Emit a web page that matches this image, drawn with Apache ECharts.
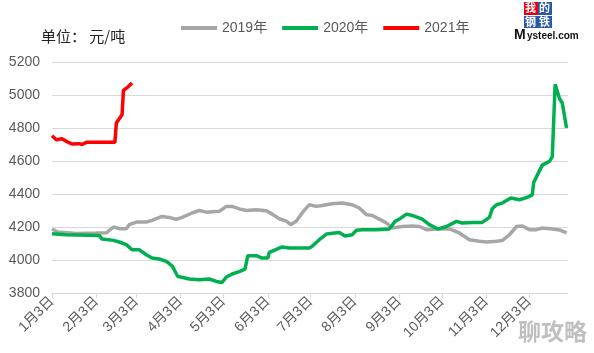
<!DOCTYPE html>
<html>
<head>
<meta charset="utf-8">
<title>Mysteel price chart</title>
<script src="https://cdn.jsdelivr.net/npm/echarts@6/dist/echarts.min.js"></script>
<style>
  html, body { margin: 0; padding: 0; background: #fff; }
  #chart { width: 594px; height: 353px; }
</style>
</head>
<body>
<div id="chart"></div>
<script>
// month lengths used for the daily category axis (1月3日 .. 12月30日)
var monthDays = [31, 28, 31, 30, 31, 30, 31, 31, 30, 31, 30, 31];
var seriesNames = ['2019年', '2020年', '2021年'];

// [月-日, 元/吨]
var data2019 = [
  ['1-3', 4188], ['1-7', 4170], ['1-20', 4160], ['2-3', 4163], ['2-10', 4165],
  ['2-15', 4200], ['2-19', 4190], ['2-24', 4190], ['2-26', 4214], ['3-3', 4230],
  ['3-10', 4230], ['3-14', 4240], ['3-21', 4264], ['3-26', 4258], ['3-31', 4246],
  ['4-4', 4258], ['4-11', 4285], ['4-16', 4300], ['4-21', 4290], ['4-30', 4295],
  ['5-5', 4325], ['5-9', 4325], ['5-14', 4310], ['5-19', 4300], ['5-26', 4305],
  ['6-2', 4298], ['6-6', 4278], ['6-11', 4250], ['6-16', 4236], ['6-19', 4214],
  ['6-23', 4236], ['6-25', 4260], ['6-27', 4285], ['7-2', 4335], ['7-7', 4325],
  ['7-11', 4330], ['7-18', 4341], ['7-25', 4345], ['8-1', 4335], ['8-6', 4315],
  ['8-11', 4275], ['8-15', 4270], ['8-20', 4248], ['8-25', 4224], ['8-29', 4194],
  ['9-5', 4203], ['9-12', 4206], ['9-17', 4203], ['9-22', 4184], ['10-1', 4188],
  ['10-8', 4188], ['10-15', 4164], ['10-22', 4123], ['10-29', 4114], ['11-3', 4109],
  ['11-10', 4114], ['11-14', 4118], ['11-19', 4153], ['11-24', 4203], ['11-28', 4206],
  ['12-3', 4184], ['12-8', 4184], ['12-12', 4194], ['12-19', 4188], ['12-24', 4182],
  ['12-29', 4164]
];
var data2020 = [
  ['1-3', 4159], ['1-13', 4153], ['2-5', 4149], ['2-7', 4127], ['2-15', 4119],
  ['2-19', 4109], ['2-24', 4093], ['2-28', 4062], ['3-5', 4062], ['3-10', 4032],
  ['3-14', 4012], ['3-19', 4006], ['3-24', 3992], ['3-28', 3965], ['4-1', 3900],
  ['4-4', 3895], ['4-9', 3885], ['4-16', 3880], ['4-23', 3885], ['4-28', 3870],
  ['5-2', 3864], ['5-5', 3897], ['5-9', 3915], ['5-14', 3930], ['5-18', 3945],
  ['5-20', 4026], ['5-26', 4026], ['5-30', 4012], ['6-3', 4012], ['6-4', 4046],
  ['6-9', 4065], ['6-13', 4079], ['6-18', 4073], ['6-25', 4073], ['7-2', 4073],
  ['7-4', 4083], ['7-9', 4123], ['7-14', 4157], ['7-23', 4167], ['7-27', 4145],
  ['8-1', 4153], ['8-4', 4180], ['8-8', 4184], ['8-18', 4184], ['8-27', 4188],
  ['8-31', 4234], ['9-3', 4248], ['9-8', 4278], ['9-12', 4270], ['9-19', 4248],
  ['9-24', 4214], ['9-30', 4188], ['10-6', 4203], ['10-13', 4234], ['10-17', 4224],
  ['10-24', 4228], ['10-31', 4228], ['11-5', 4258], ['11-7', 4310], ['11-10', 4335],
  ['11-14', 4345], ['11-20', 4376], ['11-26', 4365], ['12-1', 4378], ['12-5', 4395],
  ['12-6', 4470], ['12-10', 4540], ['12-12', 4575], ['12-17', 4598], ['12-19', 4625],
  ['12-21', 5065], ['12-24', 4980], ['12-26', 4951], ['12-29', 4800]
];
var data2021 = [
  ['1-3', 4753], ['1-6', 4729], ['1-10', 4735], ['1-13', 4719], ['1-17', 4703],
  ['1-22', 4705], ['1-24', 4700], ['1-27', 4713], ['2-16', 4713], ['2-17', 4830],
  ['2-21', 4880], ['2-22', 5028], ['2-25', 5048], ['2-28', 5073]
];

var colors = ['#a6a6a6', '#00b050', '#ff0000'];

// build daily categories
var days = [];
for (var m = 1; m <= 12; m++) {
  for (var d = 1; d <= monthDays[m - 1]; d++) {
    if (m === 1 && d < 3) continue;
    if (m === 12 && d > 30) continue;
    days.push(m + '月' + d + '日');
  }
}
function toCat(arr) {
  return arr.map(function (p) {
    var md = p[0].split('-');
    return [md[0] + '月' + md[1] + '日', p[1]];
  });
}
function isThird(index, value) {
  return /月3日$/.test(value);
}

var chart = echarts.init(document.getElementById('chart'));
var font = '"Liberation Sans", "Noto Sans CJK SC", sans-serif';

chart.setOption({
  animation: false,
  color: colors,
  textStyle: { fontFamily: font },
  grid: { left: 52, right: 26, top: 62, bottom: 60 },
  legend: {
    left: 176, top: 16,
    icon: 'rect', itemWidth: 36, itemHeight: 4, itemGap: 15,
    textStyle: { color: '#595959', fontSize: 14, fontFamily: font },
    data: seriesNames
  },
  xAxis: {
    type: 'category',
    data: days,
    boundaryGap: false,
    axisLine: { lineStyle: { color: '#d9d9d9' } },
    axisTick: { interval: isThird, length: 5, lineStyle: { color: '#d9d9d9' } },
    axisLabel: {
      interval: isThird, rotate: 45, color: '#595959', fontSize: 14, margin: 6
    }
  },
  yAxis: {
    type: 'value', min: 3800, max: 5200, interval: 200,
    axisLine: { show: false },
    axisTick: { show: false },
    axisLabel: {
      color: '#595959', fontSize: 14, margin: 12,
      formatter: function (v) { return String(v); }
    },
    splitLine: { lineStyle: { color: '#d9d9d9' } }
  },
  series: [
    { name: seriesNames[0], type: 'line', showSymbol: false, data: toCat(data2019), lineStyle: { width: 3.5 } },
    { name: seriesNames[1], type: 'line', showSymbol: false, data: toCat(data2020), lineStyle: { width: 3.5 } },
    { name: seriesNames[2], type: 'line', showSymbol: false, data: toCat(data2021), lineStyle: { width: 3.5 } }
  ],
  graphic: [
    { type: 'text', left: 41, top: 29, style: { text: '单位： 元/吨', fill: '#222', font: '15px "Noto Sans CJK SC"' } },
    // logo
    { type: 'rect', shape: { x: 524, y: 2, width: 14, height: 13 }, style: { fill: '#e60012' } },
    { type: 'rect', shape: { x: 538, y: 2, width: 14, height: 13 }, style: { fill: '#2b59a8' } },
    { type: 'rect', shape: { x: 524, y: 16, width: 14, height: 12 }, style: { fill: '#2b59a8' } },
    { type: 'rect', shape: { x: 538, y: 16, width: 14, height: 12 }, style: { fill: '#2b59a8' } },
    { type: 'text', x: 525, y: 2, style: { text: '我', fill: '#fff', font: 'bold 11px "Noto Sans CJK SC"' } },
    { type: 'text', x: 539, y: 2, style: { text: '的', fill: '#fff', font: 'bold 11px "Noto Sans CJK SC"' } },
    { type: 'text', x: 525, y: 16, style: { text: '钢', fill: '#fff', font: 'bold 11px "Noto Sans CJK SC"' } },
    { type: 'text', x: 539, y: 16, style: { text: '铁', fill: '#fff', font: 'bold 11px "Noto Sans CJK SC"' } },
    { type: 'text', x: 514, y: 28, style: { text: 'M', fill: '#111', font: 'bold 14px "Liberation Sans"' } },
    { type: 'text', x: 527, y: 31, style: { text: 'ysteel.com', fill: '#111', font: 'bold 10px "Liberation Sans"' } },
    // watermark
    { type: 'text', x: 518, y: 320, style: { text: '聊攻略', fill: 'rgba(170,170,170,0.75)', font: 'bold 23px "Noto Sans CJK SC"' } }
  ]
});
</script>
</body>
</html>
